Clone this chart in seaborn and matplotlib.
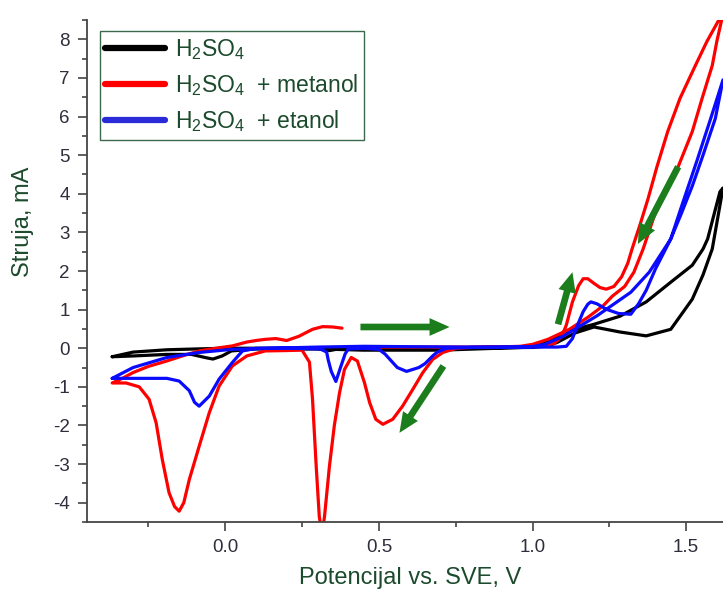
import matplotlib
matplotlib.use('Agg')
import matplotlib.pyplot as plt
import seaborn as sns
from matplotlib.lines import Line2D
from matplotlib.ticker import MultipleLocator, FixedLocator, FixedFormatter

# ---------------- data ----------------
red_x = [0.40, 0.50, 0.60, 0.70, 0.80, 0.90, 0.98, 1.03, 1.07, 1.095, 1.11, 1.13, 1.15, 1.165, 1.18,
         1.20, 1.22, 1.24, 1.265, 1.29, 1.31, 1.324, 1.35, 1.376, 1.405, 1.44, 1.48, 1.53, 1.568, 1.61, 1.62,
         1.617, 1.60, 1.585, 1.552, 1.52, 1.474, 1.415, 1.36, 1.33, 1.30, 1.26, 1.23, 1.18, 1.12, 1.05,
         1.00, 0.96, 0.88, 0.80, 0.753, 0.708, 0.675, 0.643, 0.61, 0.577, 0.545, 0.513, 0.49, 0.47,
         0.453, 0.43, 0.41, 0.388, 0.372, 0.355, 0.339, 0.323, 0.315, 0.306, 0.296, 0.284, 0.274, 0.25,
         0.20, 0.13, 0.07, 0.023, -0.02, -0.052, -0.085, -0.117, -0.135, -0.15, -0.165, -0.183, -0.205,
         -0.225, -0.248, -0.28, -0.323, -0.368,
         -0.335, -0.30, -0.25, -0.19, -0.14, -0.085, -0.03, 0.023, 0.07, 0.10, 0.13, 0.165, 0.20, 0.24,
         0.284, 0.317, 0.35, 0.38]
red_y = [0.03, 0.03, 0.03, 0.03, 0.03, 0.03, 0.04, 0.06, 0.12, 0.30, 0.60, 1.20, 1.62, 1.80, 1.80,
         1.68, 1.57, 1.53, 1.60, 1.85, 2.20, 2.57, 3.20, 3.87, 4.70, 5.61, 6.47, 7.32, 7.95, 8.55, 8.62,
         8.55, 7.95, 7.32, 6.47, 5.61, 4.70, 3.87, 2.57, 1.97, 1.60, 1.35, 1.10, 0.80, 0.49, 0.23,
         0.10, 0.05, 0.03, 0.02, 0.00, -0.11, -0.29, -0.63, -1.07, -1.50, -1.84, -1.97, -1.84, -1.41,
         -0.89, -0.33, -0.24, -0.55, -1.15, -2.00, -3.06, -4.36, -4.80, -4.36, -3.06, -1.32, -0.36, -0.05,
         -0.06, -0.07, -0.20, -0.46, -0.98, -1.67, -2.54, -3.40, -4.00, -4.22, -4.10, -3.74, -2.88,
         -1.93, -1.32, -1.00, -0.90, -0.90,
         -0.78, -0.63, -0.47, -0.33, -0.20, -0.07, 0.00, 0.06, 0.16, 0.20, 0.23, 0.25, 0.20, 0.31,
         0.49, 0.56, 0.55, 0.52]

blue_x = [-0.368, -0.30, -0.19, -0.085, 0.02, 0.15, 0.30, 0.45, 0.60, 0.80, 1.00, 1.08, 1.11, 1.13,
          1.145, 1.165, 1.18, 1.19, 1.21, 1.24, 1.28, 1.32, 1.345, 1.37, 1.40, 1.45, 1.49, 1.535, 1.58, 1.62,
          1.595, 1.555, 1.52, 1.485, 1.45, 1.38, 1.32, 1.21, 1.10, 1.04, 0.99, 0.80, 0.72, 0.69, 0.675,
          0.65, 0.63, 0.59, 0.56, 0.545, 0.52, 0.50, 0.45, 0.40, 0.39, 0.375, 0.36, 0.345, 0.335, 0.33,
          0.31, 0.20, 0.10, 0.056, 0.023, -0.02, -0.052, -0.085, -0.10, -0.117, -0.15, -0.19, -0.30, -0.368]
blue_y = [-0.78, -0.50, -0.24, -0.11, -0.03, 0.00, 0.03, 0.05, 0.04, 0.03, 0.03, 0.03, 0.05, 0.25,
          0.57, 0.95, 1.14, 1.20, 1.15, 1.01, 0.90, 0.88, 1.15, 1.50, 2.05, 2.83, 3.79, 4.85, 5.95, 6.95,
          5.95, 5.00, 4.20, 3.50, 2.83, 1.97, 1.45, 0.84, 0.31, 0.10, 0.03, 0.02, 0.00, -0.10, -0.20,
          -0.40, -0.50, -0.60, -0.50, -0.37, -0.15, -0.03, 0.00, -0.02, -0.15, -0.50, -0.86, -0.60, -0.30, -0.10,
          -0.02, 0.00, 0.00, -0.07, -0.37, -0.80, -1.24, -1.50, -1.40, -1.10, -0.85, -0.78, -0.78, -0.78]

black_x = [-0.368, -0.30, -0.19, -0.10, 0.00, 0.30, 0.50, 0.80, 1.00, 1.05, 1.08, 1.14, 1.20, 1.285,
           1.37, 1.45, 1.52, 1.555, 1.585, 1.62,
           1.61, 1.57, 1.555, 1.52, 1.45, 1.37, 1.285, 1.20, 1.12, 1.05, 1.00, 0.70, 0.45, 0.36, 0.34,
           0.30, 0.10, 0.02, -0.01, -0.04, -0.06, -0.11, -0.19, -0.30, -0.368]
black_y = [-0.22, -0.10, -0.04, -0.02, 0.00, 0.00, 0.00, 0.01, 0.02, 0.06, 0.15, 0.40, 0.55, 0.42,
           0.32, 0.49, 1.27, 1.90, 2.57, 4.15,
           4.05, 2.83, 2.57, 2.15, 1.71, 1.20, 0.83, 0.62, 0.45, 0.20, 0.03, -0.05, -0.05, -0.03, -0.06,
           -0.02, -0.02, -0.07, -0.20, -0.28, -0.25, -0.16, -0.16, -0.20, -0.22]

series_labels = ['H$_2$SO$_4$', 'H$_2$SO$_4$  + metanol', 'H$_2$SO$_4$  + etanol']
x_ticks = [0.0, 0.5, 1.0, 1.5]
x_tick_labels = ['0.0', '0.5', '1.0', '1.5']
y_ticks = [-4, -3, -2, -1, 0, 1, 2, 3, 4, 5, 6, 7, 8]
y_tick_labels = ['-4', '-3', '-2', '-1', '0', '1', '2', '3', '4', '5', '6', '7', '8']

# scan-direction arrows: (x_start, y_start, x_end, y_end)
arrow_starts = [(0.44, 0.55), (0.71, -0.46), (1.083, 0.62), (1.474, 4.70)]
arrow_ends = [(0.73, 0.55), (0.567, -2.19), (1.13, 1.97), (1.343, 2.70)]

# ---------------- style ----------------
sns.set_theme(style='ticks')
plt.rcParams['font.family'] = ['Liberation Sans', 'DejaVu Sans']
plt.rcParams['mathtext.default'] = 'regular'
plt.rcParams['axes.unicode_minus'] = False

TXT = '#1c4a2c'
TICKC = '#2e2e3c'
SPINE = '#444444'
GREEN = '#1b7d1b'

fig = plt.figure(figsize=(7.23, 5.92), dpi=100)
ax = fig.add_axes([87 / 723, 70 / 592, 636 / 723, 502 / 592])

lw = 2.3
sns.lineplot(x=black_x, y=black_y, sort=False, estimator=None, color='black', lw=lw, ax=ax, legend=False)
sns.lineplot(x=red_x, y=red_y, sort=False, estimator=None, color='#ff0000', lw=lw, ax=ax, legend=False)
sns.lineplot(x=blue_x, y=blue_y, sort=False, estimator=None, color='#0a0aff', lw=lw, ax=ax, legend=False)

for (xs, ys), (xe, ye) in zip(arrow_starts, arrow_ends):
    ax.annotate('', xy=(xe, ye), xytext=(xs, ys),
                arrowprops=dict(arrowstyle='simple,head_length=0.9,head_width=0.8,tail_width=0.3',
                                color=GREEN, shrinkA=0, shrinkB=0, mutation_scale=16, lw=0))

ax.set_xlim(-0.45, 1.62)
ax.set_ylim(-4.5, 8.5)

ax.xaxis.set_major_locator(FixedLocator(x_ticks))
ax.xaxis.set_major_formatter(FixedFormatter(x_tick_labels))
ax.yaxis.set_major_locator(FixedLocator(y_ticks))
ax.yaxis.set_major_formatter(FixedFormatter(y_tick_labels))
ax.xaxis.set_minor_locator(MultipleLocator(0.25))
ax.yaxis.set_minor_locator(MultipleLocator(0.5))

ax.tick_params(which='major', direction='out', length=6.5, width=1.2, color=SPINE,
               labelsize=13.5, labelcolor=TICKC, pad=6)
ax.tick_params(which='minor', direction='out', length=3.8, width=1.2, color=SPINE)

sns.despine(ax=ax, top=True, right=True)
for s in ['left', 'bottom']:
    ax.spines[s].set_color(SPINE)
    ax.spines[s].set_linewidth(1.3)

ax.set_xlabel('Potencijal vs. SVE, V', fontsize=17, color=TXT)
ax.set_ylabel('Struja, mA', fontsize=17, color=TXT)
ax.xaxis.set_label_coords(0.508, -0.09)
ax.yaxis.set_label_coords(-0.083, 0.598)

handles = [Line2D([0], [0], color='black', lw=4.5),
           Line2D([0], [0], color='#ff0000', lw=4.5),
           Line2D([0], [0], color='#2a2ad8', lw=4.5)]
leg = ax.legend(handles, series_labels, loc='upper left', bbox_to_anchor=(0.02, 0.978),
                borderaxespad=0, fontsize=16.5, frameon=True, fancybox=False, framealpha=1,
                edgecolor='#3c6a4c', borderpad=0.25, labelspacing=0.45, handlelength=2.6,
                handletextpad=0.45)
leg.get_frame().set_linewidth(1.0)
for t in leg.get_texts():
    t.set_color(TXT)

fig.savefig('out.png', dpi=100)
